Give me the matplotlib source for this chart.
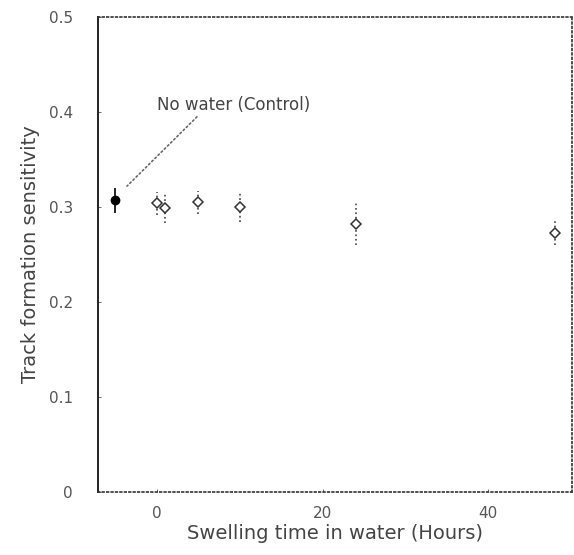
import matplotlib
matplotlib.use('Agg')
import matplotlib.pyplot as plt

# data
control_x = [-5]
control_y = [0.307]
control_err = [0.013]

swell_x = [0, 1, 5, 10, 24, 48]
swell_y = [0.304, 0.299, 0.305, 0.300, 0.282, 0.273]
swell_err = [0.012, 0.016, 0.012, 0.016, 0.022, 0.013]

yticks = [0, 0.1, 0.2, 0.3, 0.4, 0.5]
yticklabels = ['0', '0.1', '0.2', '0.3', '0.4', '0.5']
xticks = [0, 20, 40]

plt.rcParams['font.family'] = ['DejaVu Sans']
fig = plt.figure(figsize=(5.74, 5.55), dpi=100)
ax = fig.add_axes([98 / 574, 1 - 492 / 555, 474 / 574, 475 / 555])

eb = ax.errorbar(swell_x, swell_y, yerr=swell_err, fmt='D', mfc='white', mec='#333333',
                 ms=5.5, mew=1.1, ecolor='#444444', elinewidth=1.2, capsize=0, ls='none')
eb[2][0].set_linestyle(':')
ax.errorbar(control_x, control_y, yerr=control_err, fmt='o', color='black',
            ms=6, elinewidth=1.2, capsize=0, ls='none')

ax.annotate('No water (Control)', xy=(-3.6, 0.322), xytext=(0, 0.402),
            fontsize=12, color='#444444',
            arrowprops=dict(arrowstyle='-', ls=':', color='#666666', lw=1.2,
                            shrinkA=0, shrinkB=0,
                            relpos=(0.28, 0.0)))

ax.set_xlim(-7.1, 50.1)
ax.set_ylim(0, 0.5)
ax.set_xticks(xticks)
ax.set_yticks(yticks)
ax.set_yticklabels(yticklabels)
ax.tick_params(direction='in', length=2, width=0.6, labelsize=11, colors='#555555', pad=18)
ax.tick_params(axis='x', pad=10)

for side in ['top', 'right', 'bottom']:
    ax.spines[side].set_linestyle(':')
    ax.spines[side].set_linewidth(1.2)
    ax.spines[side].set_color('#333333')
ax.spines['left'].set_linewidth(1.4)
ax.spines['left'].set_color('#222222')

ax.set_xlabel('Swelling time in water (Hours)', fontsize=14, color='#444444', labelpad=2)
ax.set_ylabel('Track formation sensitivity', fontsize=14, color='#444444', labelpad=6)

fig.savefig('out.png', dpi=100)
